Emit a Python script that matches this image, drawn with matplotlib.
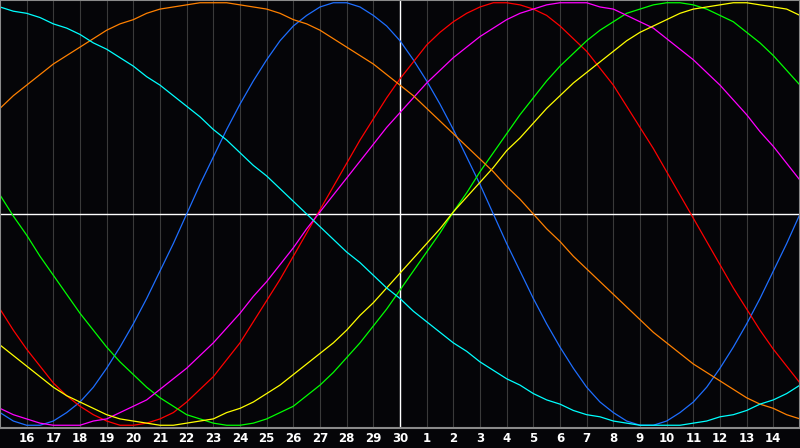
import numpy as np
import matplotlib
matplotlib.use("Agg")
import matplotlib.pyplot as plt

# readings every half day, from the 15th (index 0) to the 15th of next month (index 30)
half_days = np.arange(61) / 2
tick_days = np.arange(1, 30)
day_labels = ["16", "17", "18", "19", "20", "21", "22", "23", "24", "25", "26", "27", "28", "29", "30",
              "1", "2", "3", "4", "5", "6", "7", "8", "9", "10", "11", "12", "13", "14"]

physical = [-0.94, -0.98, -1.00, -1.00, -0.98, -0.94, -0.89, -0.82, -0.73, -0.63,
            -0.52, -0.40, -0.27, -0.14, 0.00, 0.14, 0.27, 0.40, 0.52, 0.63,
            0.73, 0.82, 0.89, 0.94, 0.98, 1.00, 1.00, 0.98, 0.94, 0.89,
            0.82, 0.73, 0.63, 0.52, 0.40, 0.27, 0.14, 0.00, -0.14, -0.27,
            -0.40, -0.52, -0.63, -0.73, -0.82, -0.89, -0.94, -0.98, -1.00, -1.00,
            -0.98, -0.94, -0.89, -0.82, -0.73, -0.63, -0.52, -0.40, -0.27, -0.14, 0.00]
emotional = [-0.45, -0.55, -0.64, -0.72, -0.80, -0.86, -0.91, -0.95, -0.98, -1.00,
             -1.00, -0.99, -0.97, -0.94, -0.89, -0.83, -0.77, -0.69, -0.61, -0.51,
             -0.41, -0.31, -0.20, -0.09, 0.02, 0.13, 0.24, 0.35, 0.45, 0.55,
             0.64, 0.72, 0.80, 0.86, 0.91, 0.95, 0.98, 1.00, 1.00, 0.99,
             0.97, 0.94, 0.89, 0.83, 0.77, 0.69, 0.61, 0.51, 0.41, 0.31,
             0.20, 0.09, -0.02, -0.13, -0.24, -0.35, -0.45, -0.55, -0.64, -0.72, -0.80]
intellectual = [0.09, -0.01, -0.10, -0.20, -0.29, -0.38, -0.47, -0.55, -0.63, -0.70,
                -0.76, -0.82, -0.87, -0.91, -0.95, -0.97, -0.99, -1.00, -1.00, -0.99,
                -0.97, -0.94, -0.91, -0.86, -0.81, -0.75, -0.68, -0.61, -0.53, -0.45,
                -0.36, -0.27, -0.18, -0.09, 0.01, 0.10, 0.20, 0.29, 0.38, 0.47,
                0.55, 0.63, 0.70, 0.76, 0.82, 0.87, 0.91, 0.95, 0.97, 0.99,
                1.00, 1.00, 0.99, 0.97, 0.94, 0.91, 0.86, 0.81, 0.75, 0.68, 0.61]
intuitive = [-0.92, -0.95, -0.97, -0.99, -1.00, -1.00, -1.00, -0.98, -0.97, -0.94,
             -0.91, -0.88, -0.83, -0.78, -0.73, -0.67, -0.61, -0.54, -0.47, -0.39,
             -0.32, -0.24, -0.16, -0.07, 0.01, 0.09, 0.17, 0.25, 0.33, 0.41,
             0.48, 0.55, 0.62, 0.68, 0.74, 0.79, 0.84, 0.88, 0.92, 0.95,
             0.97, 0.99, 1.00, 1.00, 1.00, 0.98, 0.97, 0.94, 0.91, 0.88,
             0.83, 0.78, 0.73, 0.67, 0.61, 0.54, 0.47, 0.39, 0.32, 0.24, 0.16]
aesthetic = [-0.62, -0.67, -0.72, -0.77, -0.82, -0.86, -0.89, -0.92, -0.95, -0.97,
             -0.98, -0.99, -1.00, -1.00, -0.99, -0.98, -0.97, -0.94, -0.92, -0.89,
             -0.85, -0.81, -0.76, -0.71, -0.66, -0.61, -0.55, -0.48, -0.42, -0.35,
             -0.28, -0.21, -0.14, -0.07, 0.01, 0.08, 0.15, 0.22, 0.30, 0.36,
             0.43, 0.50, 0.56, 0.62, 0.67, 0.72, 0.77, 0.82, 0.86, 0.89,
             0.92, 0.95, 0.97, 0.98, 0.99, 1.00, 1.00, 0.99, 0.98, 0.97, 0.94]
awareness = [0.50, 0.56, 0.61, 0.66, 0.71, 0.75, 0.79, 0.83, 0.87, 0.90,
             0.92, 0.95, 0.97, 0.98, 0.99, 1.00, 1.00, 1.00, 0.99, 0.98,
             0.97, 0.95, 0.92, 0.90, 0.87, 0.83, 0.79, 0.75, 0.71, 0.66,
             0.61, 0.56, 0.50, 0.44, 0.38, 0.32, 0.26, 0.20, 0.13, 0.07,
             0.00, -0.07, -0.13, -0.20, -0.26, -0.32, -0.38, -0.44, -0.50, -0.56,
             -0.61, -0.66, -0.71, -0.75, -0.79, -0.83, -0.87, -0.90, -0.92, -0.95, -0.97]
spiritual = [0.98, 0.96, 0.95, 0.93, 0.90, 0.88, 0.85, 0.81, 0.78, 0.74,
             0.70, 0.65, 0.61, 0.56, 0.51, 0.46, 0.40, 0.35, 0.29, 0.23,
             0.18, 0.12, 0.06, 0.00, -0.06, -0.12, -0.18, -0.23, -0.29, -0.35,
             -0.40, -0.46, -0.51, -0.56, -0.61, -0.65, -0.70, -0.74, -0.78, -0.81,
             -0.85, -0.88, -0.90, -0.93, -0.95, -0.96, -0.98, -0.99, -1.00, -1.00,
             -1.00, -1.00, -0.99, -0.98, -0.96, -0.95, -0.93, -0.90, -0.88, -0.85, -0.81]

series = [
    (physical, "#1e6eff"),
    (emotional, "#ff0000"),
    (intellectual, "#00ff00"),
    (intuitive, "#ff00ff"),
    (aesthetic, "#ffff00"),
    (awareness, "#ff8000"),
    (spiritual, "#00ffff"),
]

bg = "#050508"
fig = plt.figure(figsize=(8, 4.48), dpi=100, facecolor=bg)
ax = fig.add_axes([0, 20 / 448, 1, 428 / 448])
ax.set_facecolor(bg)
ax.set_xlim(0, 30)
ax.set_ylim(-1.013, 1.013)

for s in ax.spines.values():
    s.set_color("#8a8a8a")
    s.set_linewidth(1.5)

ax.set_xticks(tick_days)
ax.set_xticklabels(day_labels, color="white", fontweight="bold", fontsize=8.5)
ax.tick_params(axis="x", length=0, pad=3)
ax.set_yticks([])
ax.grid(axis="x", color="#3a3a3a", linewidth=0.8, zorder=0.5)
ax.set_axisbelow(True)

# centre lines: zero level and today
ax.axhline(0, color="white", linewidth=1, zorder=1)
ax.axvline(15, color="white", linewidth=1, zorder=1)

for vals, col in series:
    ax.plot(half_days, vals, color=col, linewidth=0.9, zorder=2)

fig.savefig("out.png", dpi=100, facecolor=bg)
